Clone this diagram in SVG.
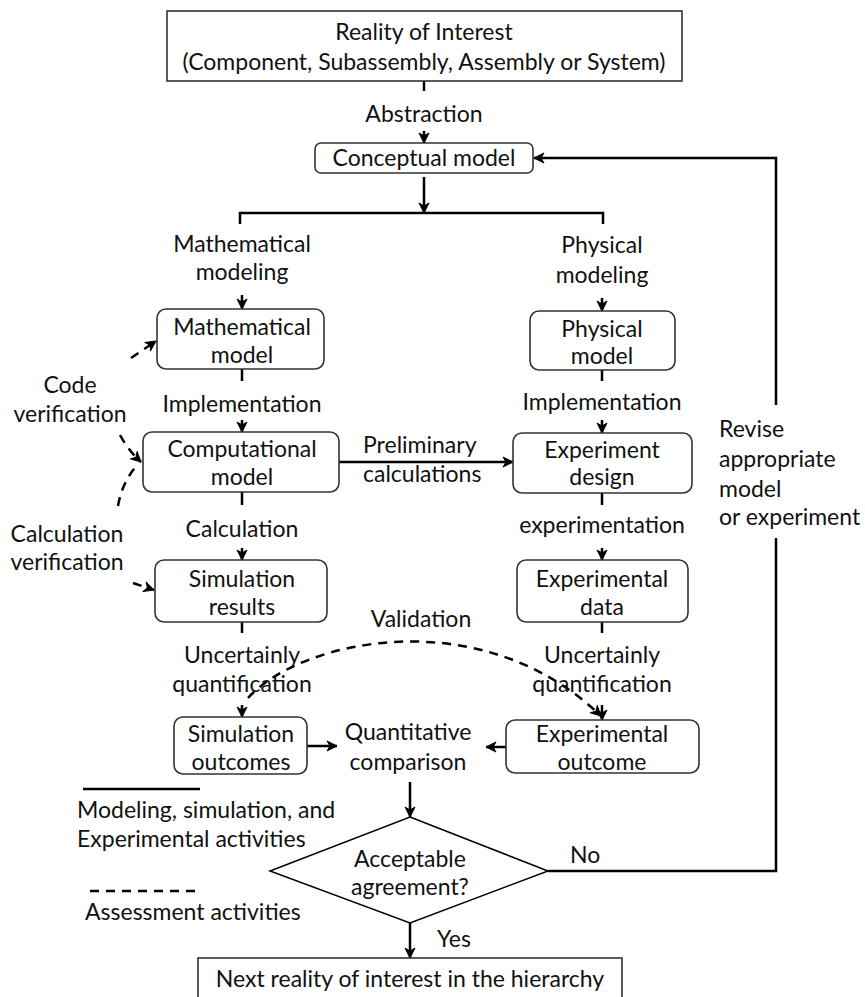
<svg xmlns="http://www.w3.org/2000/svg" width="865" height="997" viewBox="0 0 865 997">
<defs>
<marker id="ah" markerUnits="userSpaceOnUse" markerWidth="12" markerHeight="12" viewBox="0 0 12 12" refX="11" refY="6" orient="auto">
<path d="M1,1 L11,6 L1,11 L4,6 z" fill="#000" stroke="#000" stroke-width="1" stroke-linejoin="round"/>
</marker>
</defs>
<style>
.box{fill:#fff;stroke:#333;stroke-width:1.6}
text{font-family:Lato,"Liberation Sans",sans-serif;font-size:23px;fill:#111}
.m{text-anchor:middle}
.c{stroke:#000;stroke-width:2.5;fill:none}
.a{stroke:#000;stroke-width:2.5;fill:none;marker-end:url(#ah)}
.d{stroke:#000;stroke-width:2.5;fill:none;stroke-dasharray:9 7}
.da{stroke:#000;stroke-width:2.5;fill:none;stroke-dasharray:9 7;marker-end:url(#ah)}
.dg{stroke:#000;stroke-width:1.5;fill:#fff}
</style>
<rect width="865" height="997" fill="#fff"/>

<g id="connectors">
<line class="c" x1="424" y1="81" x2="424" y2="91"/>
<line class="a" x1="424" y1="131" x2="424" y2="143"/>
<line class="a" x1="424" y1="177" x2="424" y2="213"/>
<path class="c" d="M240,224 V213 H603 V224"/>
<line class="a" x1="242" y1="295" x2="242" y2="309"/>
<line class="c" x1="242" y1="369" x2="242" y2="381"/>
<line class="a" x1="242" y1="420" x2="242" y2="432"/>
<line class="c" x1="242" y1="492" x2="242" y2="505"/>
<line class="a" x1="242" y1="548" x2="242" y2="560"/>
<line class="c" x1="242" y1="622" x2="242" y2="633"/>
<line class="a" x1="242" y1="705" x2="242" y2="717"/>
<line class="a" x1="602" y1="298" x2="602" y2="311"/>
<line class="c" x1="602" y1="370" x2="602" y2="381"/>
<line class="a" x1="602" y1="420" x2="602" y2="433"/>
<line class="c" x1="602" y1="493" x2="602" y2="505"/>
<line class="a" x1="602" y1="548" x2="602" y2="560"/>
<line class="c" x1="602" y1="622" x2="602" y2="633"/>
<line class="a" x1="602" y1="705" x2="602" y2="720"/>
<line class="a" x1="339" y1="462" x2="513" y2="462"/>
<line class="a" x1="307" y1="746" x2="337" y2="746"/>
<line class="a" x1="506" y1="747" x2="486" y2="747"/>
<line class="a" x1="410" y1="782" x2="410" y2="817"/>
<line class="a" x1="410" y1="923" x2="410" y2="958"/>
<path class="c" d="M548,871 H776 V538"/>
<path class="a" d="M776,405 V158 H534"/>
<path class="da" d="M131,358 L156,341"/>
<path class="da" d="M120,435 Q128,450 141,462"/>
<path class="d" d="M118,506 Q122,482 138,464"/>
<path class="da" d="M133,583 L154,590"/>
<path class="da" d="M248,698 C300,640 480,600 601,716"/>
<line class="c" x1="83" y1="789" x2="200" y2="789" stroke-width="3"/>
<line class="d" x1="90" y1="891" x2="200" y2="891" stroke-width="3"/>
</g>

<g id="reality">
<rect class="box" x="167" y="11" width="515" height="70"/>
<text class="m" x="424" y="40">Reality of Interest</text>
<text class="m" x="424" y="70">(Component, Subassembly, Assembly or System)</text>
</g>
<g id="abstraction"><text class="m" x="424" y="122">Abstraction</text></g>
<g id="conceptual">
<rect class="box" x="315" y="143" width="218" height="30" rx="6"/>
<text class="m" x="424" y="166">Conceptual model</text>
</g>
<g id="lbl-math-modeling"><text class="m" x="242" y="252">Mathematical</text><text class="m" x="242" y="280">modeling</text></g>
<g id="math-model">
<rect class="box" x="157" y="309" width="167" height="60" rx="9"/>
<text class="m" x="242" y="335">Mathematical</text><text class="m" x="242" y="363">model</text>
</g>
<g id="lbl-impl-l"><text class="m" x="242" y="412">Implementation</text></g>
<g id="comp-model">
<rect class="box" x="143" y="432" width="196" height="60" rx="9"/>
<text class="m" x="242" y="457">Computational</text><text class="m" x="242" y="485">model</text>
</g>
<g id="lbl-calc"><text class="m" x="242" y="537">Calculation</text></g>
<g id="sim-results">
<rect class="box" x="155" y="560" width="172" height="62" rx="9"/>
<text class="m" x="242" y="587">Simulation</text><text class="m" x="242" y="615">results</text>
</g>
<g id="lbl-uq-l"><text class="m" x="242" y="663">Uncertainly</text><text class="m" x="242" y="692">quantification</text></g>
<g id="sim-outcomes">
<rect class="box" x="174" y="717" width="133" height="57" rx="9"/>
<text class="m" x="241" y="742">Simulation</text><text class="m" x="241" y="770">outcomes</text>
</g>
<g id="quant"><text class="m" x="408" y="740">Quantitative</text><text class="m" x="408" y="770">comparison</text></g>
<g id="decision">
<polygon class="dg" points="410,817 548,871 410,923 270,871"/>
<text class="m" x="410" y="867">Acceptable</text><text class="m" x="410" y="895">agreement?</text>
</g>
<g id="lbl-yes"><text x="437" y="947">Yes</text></g>
<g id="lbl-no"><text x="570" y="863">No</text></g>
<g id="next">
<rect class="box" x="198" y="958" width="424" height="60"/>
<text class="m" x="410" y="987">Next reality of interest in the hierarchy</text>
</g>
<g id="lbl-phys-modeling"><text class="m" x="602" y="253">Physical</text><text class="m" x="602" y="283">modeling</text></g>
<g id="phys-model">
<rect class="box" x="530" y="311" width="145" height="59" rx="9"/>
<text class="m" x="602" y="337">Physical</text><text class="m" x="602" y="364">model</text>
</g>
<g id="lbl-impl-r"><text class="m" x="602" y="410">Implementation</text></g>
<g id="exp-design">
<rect class="box" x="513" y="433" width="179" height="60" rx="9"/>
<text class="m" x="602" y="458">Experiment</text><text class="m" x="602" y="485">design</text>
</g>
<g id="lbl-exper"><text class="m" x="602" y="533">experimentation</text></g>
<g id="exp-data">
<rect class="box" x="517" y="560" width="171" height="62" rx="9"/>
<text class="m" x="602" y="587">Experimental</text><text class="m" x="602" y="615">data</text>
</g>
<g id="lbl-uq-r"><text class="m" x="602" y="663">Uncertainly</text><text class="m" x="602" y="692">quantification</text></g>
<g id="exp-outcome">
<rect class="box" x="506" y="720" width="193" height="53" rx="9"/>
<text class="m" x="602" y="742">Experimental</text><text class="m" x="602" y="770">outcome</text>
</g>
<g id="lbl-prelim"><text x="363" y="453">Preliminary</text><text x="363" y="482">calculations</text></g>
<g id="lbl-revise"><text x="719" y="437">Revise</text><text x="719" y="467">appropriate</text><text x="719" y="497">model</text><text x="719" y="525">or experiment</text></g>
<g id="lbl-code"><text class="m" x="70" y="393">Code</text><text class="m" x="70" y="422">verification</text></g>
<g id="lbl-calcver"><text class="m" x="67" y="542">Calculation</text><text class="m" x="67" y="570">verification</text></g>
<g id="lbl-valid"><text class="m" x="421" y="627">Validation</text></g>
<g id="legend">
<text x="77" y="818">Modeling, simulation, and</text>
<text x="77" y="847">Experimental activities</text>
<text x="85" y="920">Assessment activities</text>
</g>
</svg>
